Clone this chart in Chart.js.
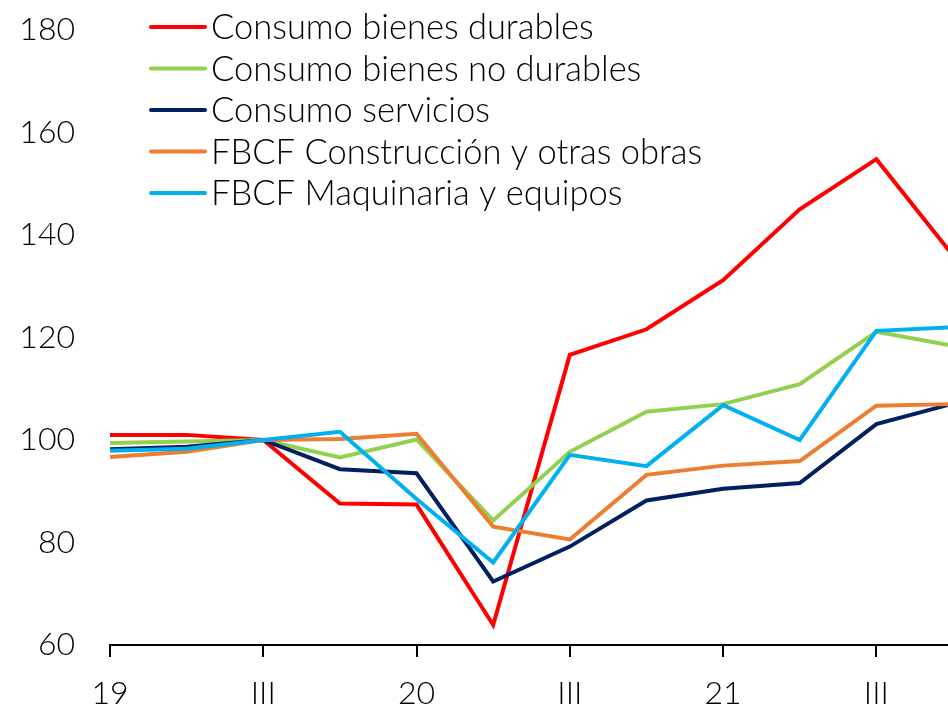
<!DOCTYPE html>
<html>
<head>
<meta charset="utf-8">
<script src="https://cdn.jsdelivr.net/npm/chart.js@4"></script>
<style>
  html, body { margin: 0; padding: 0; background: #fff; overflow: hidden; }
  #wrap { width: 1000px; height: 710px; }
</style>
</head>
<body>
<div id="wrap"><canvas id="myChart" width="1000" height="710"></canvas></div>
<script>
// Trimestres 2019-I a 2021-IV (el último punto queda fuera del recorte)
const quarters = ["19", "", "III", "", "20", "", "III", "", "21", "", "III", ""];

const durables = [101, 101, 100, 87.6, 87.4, 63.9, 116.6, 121.6, 131.2, 145.0, 154.8, 136];
const noDurables = [99.4, 99.7, 100, 96.6, 100.1, 84.3, 97.7, 105.5, 107.0, 110.9, 121.1, 118.4];
const servicios = [98.2, 98.7, 100, 94.3, 93.5, 72.4, 79.2, 88.2, 90.5, 91.6, 103.1, 107.1];
const construccion = [96.7, 97.7, 100, 100.2, 101.2, 83.1, 80.6, 93.2, 95.0, 95.9, 106.7, 107.0];
const maquinaria = [97.9, 98.3, 100, 101.6, 88.5, 76.1, 97.1, 94.9, 106.8, 100.0, 121.3, 122.0];

const seriesNames = [
  "Consumo bienes durables",
  "Consumo bienes no durables",
  "Consumo servicios",
  "FBCF Construcción y otras obras",
  "FBCF Maquinaria y equipos",
];
const seriesColors = ["#FF0000", "#92D050", "#002060", "#ED7D31", "#00B0F0"];

const yTicks = [60, 80, 100, 120, 140, 160, 180];

const FONT = "Lato";

// leyenda dibujada dentro del canvas, arriba a la izquierda
const legendPlugin = {
  id: "legendaArriba",
  afterDraw(chart) {
    const ctx = chart.ctx;
    ctx.save();
    ctx.font = "300 34.5px " + FONT;
    ctx.textBaseline = "middle";
    chart.data.datasets.forEach((ds, i) => {
      const y = 27 + i * 41.5;
      ctx.strokeStyle = ds.borderColor;
      ctx.lineWidth = 4;
      ctx.lineCap = "round";
      ctx.beginPath();
      ctx.moveTo(151, y);
      ctx.lineTo(205, y);
      ctx.stroke();
      ctx.fillStyle = "#000";
      ctx.fillText(ds.label, 211, y + 1);
    });
    ctx.restore();
  },
};

const allData = [durables, noDurables, servicios, construccion, maquinaria];

const ctx = document.getElementById("myChart").getContext("2d");

new Chart(ctx, {
  type: "line",
  data: {
    labels: quarters,
    datasets: allData.map((d, i) => ({
      label: seriesNames[i],
      data: d,
      borderColor: seriesColors[i],
      backgroundColor: seriesColors[i],
      borderWidth: 4,
      pointRadius: 0,
      tension: 0,
      order: 5 - i,
    })),
  },
  options: {
    responsive: false,
    animation: false,
    layout: { padding: { top: 30, right: 47, bottom: 0, left: 0 } },
    plugins: {
      legend: { display: false },
      tooltip: { enabled: false },
    },
    scales: {
      x: {
        offset: false,
        grid: {
          display: true,
          drawOnChartArea: false,
          drawTicks: true,
          tickLength: 12,
          lineWidth: 2,
          color: (c) => (c.index % 2 === 0 ? "#000" : "rgba(0,0,0,0)"),
        },
        border: { display: true, color: "#000", width: 2 },
        ticks: {
          autoSkip: false,
          maxRotation: 0,
          padding: 17,
          color: "#000",
          font: { family: FONT, size: 32, weight: 300 },
        },
        afterFit: (s) => {
          s.height = 65;
          s.paddingLeft = 0;
          s.paddingRight = 0;
          s.paddingTop = 0;
          s.paddingBottom = 0;
        },
      },
      y: {
        min: 60,
        max: 180,
        grid: { display: false, drawTicks: false },
        border: { display: false },
        afterBuildTicks: (s) => {
          s.ticks = yTicks.map((v) => ({ value: v }));
        },
        ticks: {
          padding: 35,
          color: "#000",
          font: { family: FONT, size: 32, weight: 300 },
        },
        afterFit: (s) => {
          s.width = 110;
          s.paddingTop = 0;
          s.paddingBottom = 0;
        },
      },
    },
  },
  plugins: [legendPlugin],
});
</script>
</body>
</html>
